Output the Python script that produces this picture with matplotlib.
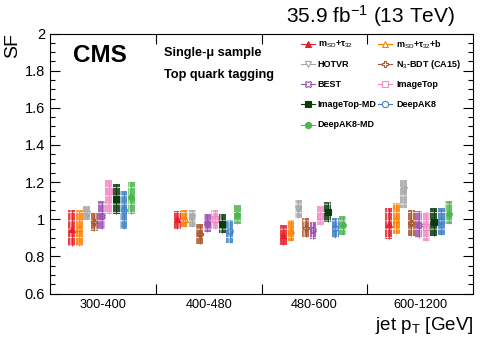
import matplotlib
matplotlib.use("Agg")
import matplotlib.pyplot as plt
import numpy as np

plt.rcParams['font.family'] = ['Liberation Sans', 'DejaVu Sans']
plt.rcParams['mathtext.fontset'] = 'custom'
plt.rcParams['mathtext.rm'] = 'Liberation Sans'
plt.rcParams['mathtext.it'] = 'Liberation Sans'
plt.rcParams['mathtext.bf'] = 'Liberation Sans:bold'
plt.rcParams['hatch.linewidth'] = 0.6

bins = ["300-400", "400-480", "480-600", "600-1200"]
taggers = ["m$_{SD}$+τ$_{32}$", "m$_{SD}$+τ$_{32}$+b", "HOTVR", "N$_{3}$-BDT (CA15)",
           "BEST", "ImageTop", "ImageTop-MD", "DeepAK8", "DeepAK8-MD"]
colors = ["#e8202a", "#ff8000", "#a6a6a6", "#a9562e", "#9b4fb0",
          "#f78ac6", "#0b3b0b", "#3d80c4", "#4cb84c"]
markers = ["^", "^", "v", "P", "X", "s", "s", "o", "o"]
filled = [True, False, False, False, False, False, True, False, True]

central = [
    [0.95, 1.00, 0.915, 0.975],
    [0.955, 1.00, 0.94, 1.00],
    [1.03, 1.005, 1.055, 1.16],
    [0.985, 0.92, 0.955, 0.98],
    [1.02, 0.98, 0.94, 0.97],
    [1.15, 1.00, 1.02, 0.96],
    [1.11, 0.975, 1.04, 0.985],
    [1.05, 0.935, 0.955, 0.99],
    [1.12, 1.025, 0.97, 1.03],
]
lower = [
    [0.854, 0.948, 0.86, 0.891],
    [0.857, 0.958, 0.882, 0.92],
    [0.995, 0.958, 1.007, 1.063],
    [0.937, 0.869, 0.903, 0.909],
    [0.948, 0.932, 0.892, 0.898],
    [1.03, 0.945, 0.971, 0.884],
    [1.027, 0.927, 0.985, 0.91],
    [0.948, 0.873, 0.90, 0.914],
    [1.03, 0.973, 0.914, 0.973],
]
upper = [
    [1.052, 1.045, 0.971, 1.063],
    [1.052, 1.052, 0.996, 1.088],
    [1.07, 1.052, 1.104, 1.21],
    [1.034, 0.973, 1.007, 1.052],
    [1.096, 1.027, 0.985, 1.045],
    [1.21, 1.049, 1.072, 1.039],
    [1.19, 1.027, 1.093, 1.063],
    [1.152, 0.995, 1.007, 1.063],
    [1.20, 1.077, 1.02, 1.097],
]

fig = plt.figure(figsize=(4.98, 3.38), dpi=100)
ax = fig.add_axes([50/498, 1-293.5/338, 423/498, 260/338])

xc = np.arange(len(bins))
start, step, width = -0.295, 0.0705, 0.066
for k in range(len(taggers)):
    c = np.array(central[k]); lo = np.array(lower[k]); hi = np.array(upper[k])
    x = xc + start + k*step
    ax.bar(x, hi-lo, bottom=lo, width=width, color=colors[k], alpha=0.85,
           edgecolor='white', linewidth=0, hatch='++', zorder=2)
    ax.errorbar(x, c, yerr=[c-lo, hi-c], fmt='none', ecolor=colors[k], elinewidth=0.6, zorder=3)
    ax.plot(x, c, linestyle='none', marker=markers[k], markersize=4,
            color=colors[k], markerfacecolor=colors[k] if filled[k] else 'none',
            markeredgewidth=0.8, zorder=4)

ax.set_xlim(-0.5, len(bins)-0.5)
ax.set_ylim(0.6, 2.0)
ax.set_xticks(xc)
ax.set_xticklabels(bins, fontsize=9.2)
ax.set_xticks(np.arange(len(bins)-1)+0.5, minor=True)
ax.tick_params(axis='x', which='major', length=0, pad=4)
ax.tick_params(axis='x', which='minor', length=7, direction='in', top=True, bottom=True, width=0.8)
ax.set_yticks(np.arange(0.6, 2.01, 0.2))
ax.set_yticklabels(["0.6", "0.8", "1", "1.2", "1.4", "1.6", "1.8", "2"], fontsize=10.5)
ax.set_yticks(np.arange(0.6, 2.001, 0.05), minor=True)
ax.tick_params(axis='y', which='major', length=7, direction='in', left=True, right=True, width=0.8)
ax.tick_params(axis='y', which='minor', length=3.5, direction='in', left=True, right=True, width=0.8)
for s in ax.spines.values():
    s.set_linewidth(0.8)

fig.text(455/498, 1-16/338, "35.9 fb$^{-1}$ (13 TeV)", ha='right', va='center', fontsize=15)
fig.text(13/498, 1-33.5/338, "SF", rotation=90, ha='center', va='top', fontsize=14)
fig.text(473/498, 1-325/338, "jet p$_{T}$ [GeV]", ha='right', va='center', fontsize=13.5)

ax.text(0.054, 0.917, "CMS", transform=ax.transAxes, fontsize=17.5, fontweight='bold', va='center', ha='left')
ax.text(0.2695, 0.924, "Single-μ sample", transform=ax.transAxes, fontsize=9.2, fontweight='bold', va='center')
ax.text(0.2695, 0.842, "Top quark tagging", transform=ax.transAxes, fontsize=9.2, fontweight='bold', va='center')

# legend (two columns, row-wise order)
col_m = [0.610, 0.792]
col_t = [0.633, 0.818]
y0, dy, half = 0.958, 0.077, 0.0165
for k in range(len(taggers)):
    r, cidx = divmod(k, 2)
    yy = y0 - r*dy
    xm = col_m[cidx]
    ax.plot([xm-half, xm+half], [yy, yy], transform=ax.transAxes, color=colors[k], lw=0.8, clip_on=False)
    ax.plot([xm], [yy], transform=ax.transAxes, marker=markers[k], markersize=4.5, color=colors[k],
            markerfacecolor=colors[k] if filled[k] else 'white', markeredgewidth=0.8, clip_on=False)
    ax.text(col_t[cidx], yy, taggers[k], transform=ax.transAxes, fontsize=6.5, fontweight='bold', va='center', ha='left')

fig.savefig("out.png", dpi=100)
